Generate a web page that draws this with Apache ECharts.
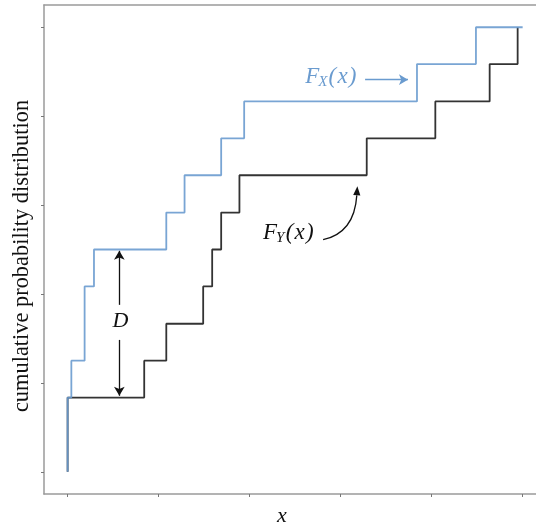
<!DOCTYPE html>
<html><head><meta charset="utf-8">
<script src="https://cdn.jsdelivr.net/npm/echarts@6/dist/echarts.min.js"></script>
<style>html,body{margin:0;padding:0;background:#fff}#c{width:536px;height:526px}</style>
</head><body><div id="c"></div>
<script>
// tick positions (no labels in the original)
const xTicks = [0, 1, 2, 3, 4, 5];
const yTicks = [0, 0.2, 0.4, 0.6, 0.8, 1.0];
// F_X(x) step points (x, cumulative probability)
const fxX = [0, 0, 0.041, 0.187, 0.29, 1.086, 1.287, 1.69, 1.943, 3.845, 4.494, 5.008];
const fxY = [0, 0.167, 0.25, 0.417, 0.5, 0.583, 0.667, 0.75, 0.833, 0.917, 1.0, 1.0];
// F_Y(x) step points
const fyX = [0, 0, 0.843, 1.086, 1.492, 1.591, 1.69, 1.891, 3.292, 4.047, 4.645, 4.953];
const fyY = [0, 0.167, 0.25, 0.333, 0.417, 0.5, 0.583, 0.667, 0.75, 0.833, 0.917, 1.0];
// text labels
const yLabel = 'cumulative probability distribution';
const xLabel = 'x';

const BLUE = '#6a9bcf', BLACK = '#333333', AXIS = '#9a9a9a';

const chart = echarts.init(document.getElementById('c'), null, {renderer: 'canvas'});
const zip = (a, b) => a.map((v, i) => [v, b[i]]);

const arrowML = (color, lines) => ({
  silent: true, animation: false,
  symbol: ['none', 'arrow'], symbolSize: [8, 9],
  label: {show: false},
  lineStyle: {color: color, width: 1.3, type: 'solid'},
  emphasis: {disabled: true},
  data: lines.map(l => [{coord: l[0]}, {coord: l[1]}])
});

const option = {
  animation: false,
  backgroundColor: '#fff',
  grid: {left: 44, right: 0, top: 5, bottom: 32, outerBoundsMode: 'none', containLabel: false},
  xAxis: [{
    type: 'value', min: -0.26, max: 5.155, position: 'bottom',
    axisLine: {show: true, onZero: false, lineStyle: {color: AXIS, width: 1.5}},
    axisTick: {show: true, inside: false, length: 3, customValues: xTicks, lineStyle: {color: '#777', width: 1}},
    axisLabel: {show: false}, splitLine: {show: false}
  }, {
    type: 'value', min: -0.26, max: 5.155, position: 'top',
    axisLine: {show: true, onZero: false, lineStyle: {color: AXIS, width: 1.5}},
    axisTick: {show: false}, axisLabel: {show: false}, splitLine: {show: false}
  }],
  yAxis: [{
    type: 'value', min: -0.05, max: 1.05, position: 'left',
    axisLine: {show: true, onZero: false, lineStyle: {color: AXIS, width: 1.5}},
    axisTick: {show: true, inside: false, length: 3, customValues: yTicks, lineStyle: {color: '#777', width: 1}},
    axisLabel: {show: false}, splitLine: {show: false}
  }],
  series: [{
    name: 'F_Y', type: 'line', step: 'end', showSymbol: false, symbol: 'none',
    data: zip(fyX, fyY), z: 2,
    lineStyle: {color: BLACK, width: 1.8},
    markLine: arrowML('#111', [
      [[0.569, 0.3755], [0.569, 0.497]],
      [[0.569, 0.2966], [0.569, 0.171]]
    ])
  }, {
    name: 'F_X', type: 'line', step: 'end', showSymbol: false, symbol: 'none',
    data: zip(fxX, fxY), z: 3,
    lineStyle: {color: BLUE, width: 1.8, opacity: 0.9},
    markLine: arrowML(BLUE, [[[3.274, 0.882], [3.746, 0.882]]])
  }]
};
chart.setOption(option);

// annotation texts
const mctx = document.createElement('canvas').getContext('2d');
function measure(t, font) { mctx.font = font; return mctx.measureText(t).width; }
const FAM = '"Liberation Serif", serif';
function funcLabel(left, cy, sub, color) {
  const big = 'italic 23px ' + FAM, small = 'italic 15px ' + FAM;
  const parts = [['F', big, 0], [sub, small, 5], ['(', big, 0], ['x', big, 0], [')', big, 0]];
  const out = []; let x = left;
  parts.forEach((p, i) => {
    out.push({type: 'text', x: x, y: cy + p[2], silent: true,
      style: {text: p[0], font: p[1], fill: color, textAlign: 'left', textVerticalAlign: 'middle'}});
    x += measure(p[0], p[1]) + (i === 0 ? -1 : 1.2);
  });
  return out;
}
const px = c => chart.convertToPixel({gridIndex: 0}, c);
const fxPos = px([2.614, 0.8874]);
const fyPos = px([2.151, 0.538]);
const dPos = px([0.58, 0.338]);

// curved arrow pointing from F_Y label to the F_Y step
const c1 = px([2.812, 0.522]), c2 = px([3.189, 0.642]);
const cp = [c2[0] - 3, c1[1] - 7];
let dx = c2[0] - cp[0], dy = c2[1] - cp[1];
const len = Math.hypot(dx, dy); dx /= len; dy /= len;
const aL = 9, aW = 3.6;
const base = [c2[0] - dx * aL, c2[1] - dy * aL];
const arrowHead = [c2, [base[0] - dy * aW, base[1] + dx * aW], [base[0] + dy * aW, base[1] - dx * aW]];

const graphics = []
  .concat(funcLabel(fxPos[0], fxPos[1], 'X', BLUE))
  .concat(funcLabel(fyPos[0], fyPos[1], 'Y', '#111'))
  .concat([
    {type: 'bezierCurve', silent: true,
      shape: {x1: c1[0], y1: c1[1], x2: base[0], y2: base[1], cpx1: cp[0], cpy1: cp[1]},
      style: {stroke: '#111', lineWidth: 1.3, fill: null}},
    {type: 'polygon', silent: true, shape: {points: arrowHead}, style: {fill: '#111'}},
    {type: 'text', x: dPos[0], y: dPos[1], silent: true,
      style: {text: 'D', font: 'italic 22px ' + FAM, fill: '#111', textAlign: 'center', textVerticalAlign: 'middle'}},
    {type: 'text', x: 282, y: 516, silent: true,
      style: {text: xLabel, font: 'italic 22px ' + FAM, fill: '#111', textAlign: 'center', textVerticalAlign: 'middle'}},
    {type: 'text', x: 22, y: 256, rotation: Math.PI / 2, silent: true,
      style: {text: yLabel, font: '22.4px ' + FAM, fill: '#111', textAlign: 'center', textVerticalAlign: 'middle'}}
  ]);
chart.setOption({graphic: graphics});
</script>
</body></html>
